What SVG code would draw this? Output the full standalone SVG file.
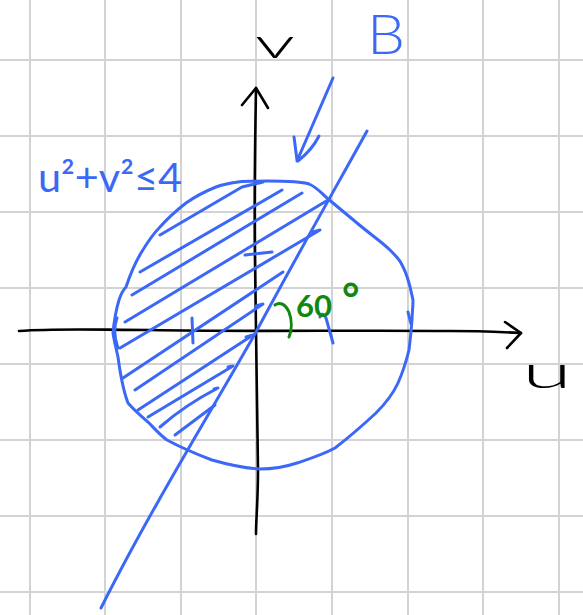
<svg xmlns="http://www.w3.org/2000/svg" width="583" height="615" viewBox="0 0 583 615">
<style>
.grid{stroke:#d3d3d3;stroke-width:2;fill:none}
.ink{stroke:#000;stroke-width:2.6;fill:none;stroke-linecap:round;stroke-linejoin:round}
.blue{stroke:#3b68f6;stroke-width:3;fill:none;stroke-linecap:round;stroke-linejoin:round}
.green{stroke:#12870f;stroke-width:3;fill:none;stroke-linecap:round}
.lbl{font-family:Lato,Inter,"Liberation Sans",Arial,sans-serif;font-weight:300}
</style>
<rect width="583" height="615" fill="#fff"/>
<g id="grid" class="grid">
<path d="M30,0V615M105,0V615M181,0V615M256,0V615M332,0V615M408,0V615M483,0V615M559,0V615"/>
<path d="M0,60H583M0,136H583M0,212H583M0,288H583M0,364H583M0,440H583M0,516H583M0,592H583"/>
</g>
<g id="connectors">
<path id="v-axis" class="ink" d="M256,88 C255,150 254,200 255,260 C256,330 257,400 258,470 C258,500 256,520 256,534"/>
<path class="ink" d="M242,105 L256,88 L268,108"/>
<path id="u-axis" class="ink" d="M19,331 C60,328 100,330 150,330 C250,332 350,330 450,331 C480,331 500,332 521,333"/>
<path class="ink" d="M505,322 L521,333 L507,348"/>
<path id="b-arrow" class="blue" d="M333,78 L297,161 M294,137 L297,160 M319,136 Q312,150 298,161"/>
</g>
<g id="disk">
<path class="blue" d="M268,181 C285,181 300,181 309,184 C318,188 322,194 327,198 C340,209 350,217 357,223 C370,234 382,242 390,250 C396,256 399,259 401,263 C405,270 407,276 409,283 C411,290 412,296 413,300 C413,308 412,314 412,320 C411,332 410,342 409,350 C406,362 403,372 398,383 C392,396 384,405 376,413 C362,426 348,438 335,448 C322,455 309,459 297,463 C285,467 272,469 260,469 C242,468 226,464 212,460 C196,454 180,447 167,440 C160,435 154,428 149,423 C141,416 134,410 128,403 C123,390 120,372 118,357 C116,348 114,340 113,333 C114,322 116,310 119,300 C121,294 123,290 126,287 C130,275 135,263 141,253 C147,243 153,234 160,227 C168,218 177,210 186,203 C196,196 206,191 216,187 C224,184 231,183 238,182 C248,181 258,181 268,181 Z"/>
<path class="blue" d="M117,318 Q112,332 118,348 M408,312 L411,324 M192,318 L193,343 M320,317 Q322,311 326,318 L333,343"/>
</g>
<g id="hatch" class="blue">
<path d="M160,235 L242,187 L263,182"/>
<path d="M140,272 L282,190"/>
<path d="M132,295 L302,193"/>
<path d="M125,322 L328,200"/>
<path d="M120,348 L320,230 L313,232"/>
<path d="M123,378 L283,272"/>
<path d="M135,390 L263,304 L256,306"/>
<path d="M138,410 L253,335 L246,337"/>
<path d="M148,417 L233,366 L228,367"/>
<path d="M160,427 Q185,405 218,388 L214,389"/>
<path d="M175,435 L215,405"/>
<path d="M245,255 L272,252"/>
</g>
<g id="line-B">
<path class="blue" d="M367,131 C340,180 300,250 256,332 C215,405 150,510 101,608"/>
</g>
<g id="angle">
<path class="green" d="M275,305 C279,302 285,303 289,312 C292,320 292,330 289,337"/>
<text class="lbl" x="296" y="317" font-size="31" fill="#12870f" style="font-weight:700">60<tspan x="342" dy="-3" font-size="42">°</tspan></text>
</g>
<g id="labels" class="lbl">
<text x="255" y="58" font-size="42" fill="#000" textLength="40" lengthAdjust="spacingAndGlyphs">v</text>
<text x="522" y="388" font-size="46" fill="#000" textLength="50" lengthAdjust="spacingAndGlyphs">u</text>
<text x="367" y="54" font-size="56" fill="#3b68f6" textLength="38" lengthAdjust="spacingAndGlyphs">B</text>
<text x="38" y="192" font-size="40" fill="#3b68f6" style="font-weight:400" textLength="144" lengthAdjust="spacingAndGlyphs">u²+v²≤4</text>
</g>
</svg>
